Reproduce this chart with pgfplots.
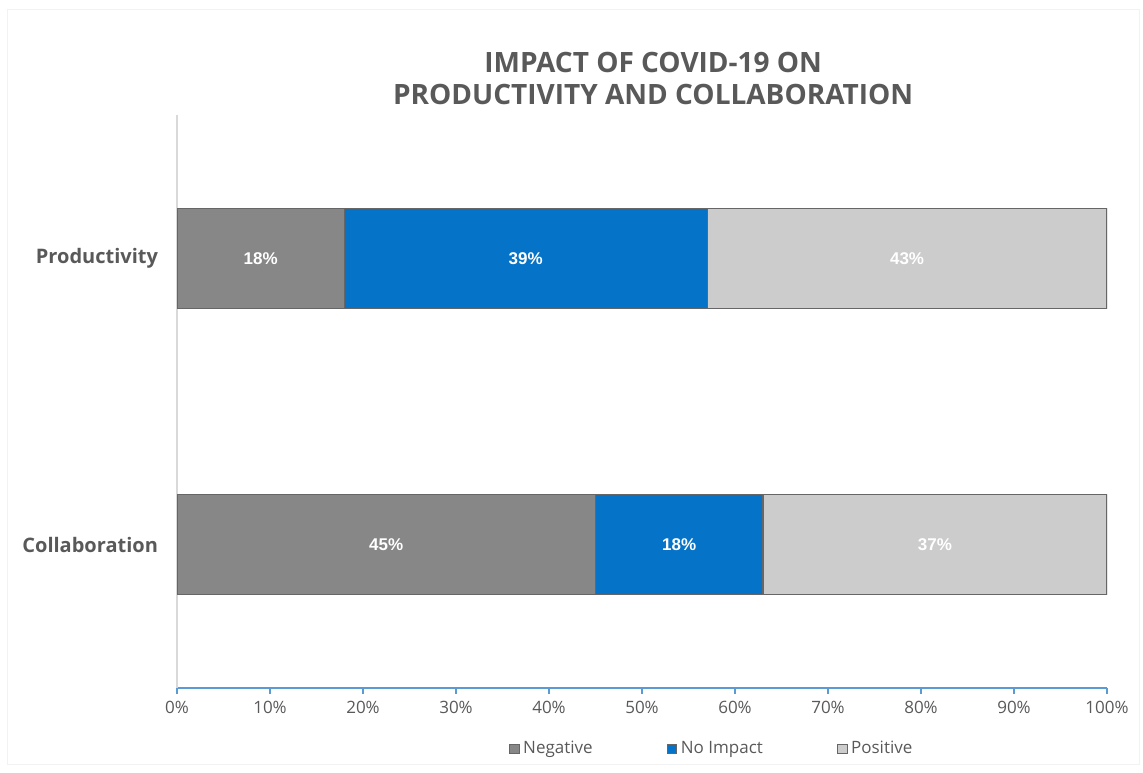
\documentclass[border=0pt]{standalone}
\usepackage{pgfplots}
\pgfplotsset{compat=1.18}
\usetikzlibrary{calc}
\usepackage{fontspec}
\setmainfont{Open Sans}
\newfontfamily\arialfont{Liberation Sans}

\definecolor{negc}{RGB}{135,135,135}
\definecolor{noimp}{RGB}{4,115,200}
\definecolor{posc}{RGB}{204,204,204}
\definecolor{txtgray}{RGB}{89,89,89}
\definecolor{axblue}{RGB}{91,155,213}

\begin{document}
\begin{tikzpicture}
\begin{axis}[
    name=ax,
    scale only axis,
    width=465pt, height=286.5pt,
    xbar stacked,
    bar width=50pt,
    xmin=0, xmax=100,
    ymin=-0.5, ymax=1.5,
    ytick={0,1},
    yticklabels={Collaboration,Productivity},
    yticklabel style={font=\fontsize{10}{11}\selectfont\bfseries, text=txtgray, xshift=-6pt},
    xtick={0,10,...,100},
    xticklabel={\pgfmathprintnumber{\tick}\%},
    xticklabel style={font=\fontsize{8.5}{10}\selectfont, text=txtgray},
    /pgf/number format/assume math mode=true,
    axis x line*=bottom,
    axis y line*=left,
    x axis line style={axblue, line width=0.8pt, -},
    y axis line style={gray!30, line width=0.6pt, -},
    xtick align=outside,
    major tick length=3pt,
    x tick style={axblue, line width=0.6pt},
    y tick style={draw=none},
    nodes near coords={\pgfmathprintnumber{\pgfplotspointmeta}\%},
    nodes near coords style={font=\arialfont\fontsize{8.5}{10}\selectfont\bfseries, text=white},
    legend style={
        at={(0.576,-0.106)}, anchor=center,
        draw=none, fill=none,
        legend columns=3,
        /tikz/every even column/.append style={column sep=35pt},
        font=\fontsize{8.5}{10}\selectfont, text=txtgray,
    },
    legend image code/.code={
        \draw[#1, draw=black!60, line width=0.3pt] (0cm,-2.4pt) rectangle (4.8pt,2.4pt);
    },
]
\addplot[fill=negc, draw=black!60, line width=0.6pt] coordinates {(45,0) (18,1)};
\addplot[fill=noimp, draw=black!60, line width=0.6pt] coordinates {(18,0) (39,1)};
\addplot[fill=posc, draw=black!60, line width=0.6pt] coordinates {(37,0) (43,1)};
\legend{Negative,No Impact,Positive}
\end{axis}
\node[anchor=south, align=center, inner sep=0pt, font=\fontsize{14}{16}\selectfont\bfseries, text=txtgray]
    at ($(ax.north west)!0.512!(ax.north east)+(0,5pt)$) {IMPACT OF COVID-19 ON\\PRODUCTIVITY AND COLLABORATION};
\draw[gray!10, line width=0.5pt] ($(ax.south west)+(-84.5pt,-38pt)$) rectangle ($(ax.north east)+(16pt,52.5pt)$);
\useasboundingbox ($(ax.south west)+(-88.5pt,-42pt)$) rectangle ($(ax.north east)+(18pt,57.5pt)$);
\end{tikzpicture}
\end{document}
